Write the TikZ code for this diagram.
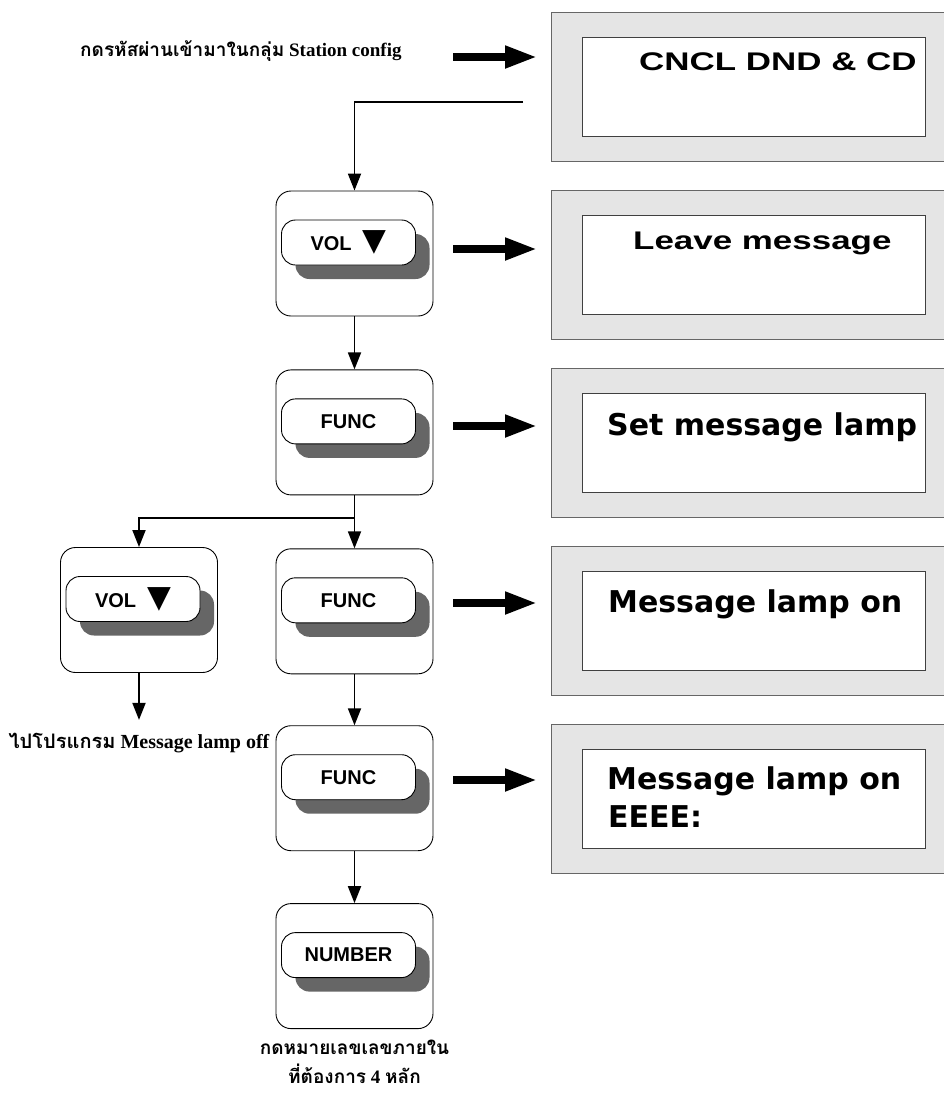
\documentclass[tikz,border=0pt]{standalone}
\usepackage{fontspec}
\setmainfont{Liberation Serif}
\newfontfamily\thaifont[Script=Thai]{Loma}
\newfontfamily\keyfont{Liberation Sans}
\newfontfamily\lcdfont[FakeStretch=1.37]{Liberation Sans}
\newfontfamily\lcdwide{DejaVu Sans}
\newfontfamily\symfont{DejaVu Sans}
\usetikzlibrary{positioning,arrows.meta,shadows}

\newcommand*{\downtri}{{\symfont\fontsize{31}{31}\selectfont ▼}}

\begin{document}
\begin{tikzpicture}
[
	x=1pt, y=-1pt,
	lcdframe/.style={draw=black!60, fill=black!10, line width=1pt, minimum width=395pt, minimum height=149pt, inner sep=0pt, anchor=north west},
	lcdscreen/.style={draw=black!75, fill=white, line width=0.8pt, minimum width=343pt, minimum height=99pt, inner sep=0pt, anchor=north west},
	lcdtext/.style={anchor=base west, inner sep=0pt, font=\lcdfont\bfseries\fontsize{25.5}{30}\selectfont},
	lcdbig/.style={anchor=base west, inner sep=0pt, font=\lcdwide\bfseries\fontsize{30}{30}\selectfont},
	keyframe/.style={draw, rounded corners=15pt, line width=0.9pt, minimum width=157pt, minimum height=125pt, inner sep=0pt},
	keybutton/.style={draw, fill=white, rounded corners=14pt, line width=0.9pt, minimum width=134pt, minimum height=45pt, inner sep=0pt,
		font=\keyfont\bfseries\fontsize{20}{22}\selectfont,
		drop shadow={shadow xshift=14pt, shadow yshift=-14pt, fill=black!60, opacity=1}},
	flow/.style={line width=1.8pt, -{Triangle[length=17pt,width=13pt]}},
	bigarrow/.style={line width=7.5pt, shorten >=14pt, -{Triangle[length=32pt,width=21pt]}},
	note/.style={inner sep=0pt, align=center, font=\bfseries\fontsize{19}{29}\selectfont}
]

	\useasboundingbox (0,0) rectangle (944,1093);

	% displays
	\foreach \i in {1,...,5} {
		\node[lcdframe] (d\i) at (551,{12+178*(\i-1)}) {};
		\node[lcdscreen] (s\i) at (582,{37+178*(\i-1)}) {};
	}
	\node[lcdtext] (t1) at (639,70) {CNCL DND \& CD};
	\node[lcdtext] (t2) at (633,249) {Leave message};
	\node[lcdbig] (t3) at (607,435) {Set message lamp};
	\node[lcdbig] (t4) at (608,612) {Message lamp on};
	\node[lcdbig] (t5) at (607,789) {Message lamp on};
	\node[lcdbig] (t6) at (608,827) {EEEE:};

	% keys
	\node[keyframe] (k1) at (354.5,253.5) {};
	\node[keyframe, below=53pt of k1] (k2) {};
	\node[keyframe, below=53pt of k2] (k3) {};
	\node[keyframe, below=51pt of k3] (k4) {};
	\node[keyframe, below=52pt of k4] (k5) {};
	\node[keyframe] (kside) at (139,610) {};

	\node[keybutton, xshift=-6pt, yshift=11pt] (b1) at (k1) {VOL\hspace{11pt}\downtri};
	\node[keybutton, xshift=-6pt, yshift=11pt] (b2) at (k2) {FUNC};
	\node[keybutton, xshift=-6pt, yshift=11pt] (b3) at (k3) {FUNC};
	\node[keybutton, xshift=-6pt, yshift=11pt] (b4) at (k4) {FUNC};
	\node[keybutton, xshift=-6pt, yshift=11pt] (b5) at (k5) {NUMBER};
	\node[keybutton, xshift=-6pt, yshift=11pt] (bside) at (kside) {VOL\hspace{11pt}\downtri};

	% notes
	\node[note, anchor=west] (start) at (80,51) {{\thaifont กดรหัสผ่านเข้ามาในกลุ่ม} Station config};
	\node[note, below=60pt of kside, font=\bfseries\fontsize{20}{31}\selectfont] (offnote) {{\thaifont ไปโปรแกรม} Message lamp off};
	\node[note, below=11pt of k5] (numnote) {{\thaifont กดหมายเลขเลขภายใน}\\{\thaifont ที่ต้องการ} 4 {\thaifont หลัก}};

	% flow
	\coordinate (c1) at (523,102);
	\draw[flow] (c1) -| (k1.north);
	\draw[flow] (k1) -- (k2);
	\draw[flow] (k2) -- (k3);
	\coordinate[below=23pt of k2] (split);
	\draw[flow] (split) -| (kside.north);
	\draw[flow] (k3) -- (k4);
	\draw[flow] (k4) -- (k5);
	\draw[flow, shorten >=13pt] (kside) -- (offnote);

	% display arrows
	\coordinate (a1) at (453,57);
	\coordinate (a2) at (453,249);
	\coordinate (a3) at (453,426);
	\coordinate (a4) at (453,603);
	\coordinate (a5) at (453,780);
	\foreach \i in {1,...,5}
		\draw[bigarrow] (a\i) -- (a\i -| d\i.west);

\end{tikzpicture}
\end{document}
